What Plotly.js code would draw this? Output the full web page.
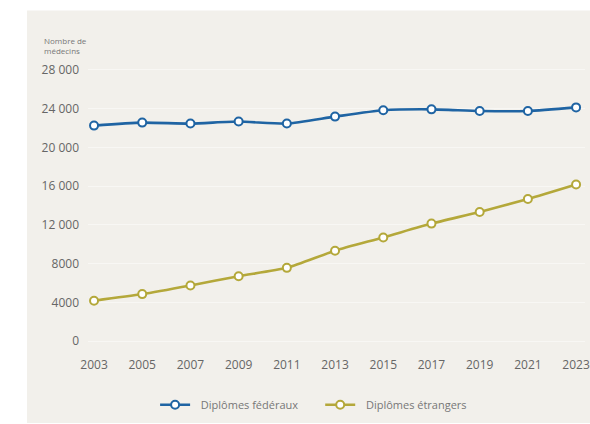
<!DOCTYPE html>
<html><head><meta charset="utf-8">
<script src="https://cdn.plot.ly/plotly-3.0.1.min.js"></script>
<style>html,body{margin:0;padding:0;background:#fff}#c{width:590px;height:424px}</style>
</head><body><div id="c"></div>
<script>
const years = [2003, 2005, 2007, 2009, 2011, 2013, 2015, 2017, 2019, 2021, 2023];
const federal = [22250, 22560, 22460, 22670, 22460, 23180, 23830, 23930, 23760, 23760, 24130];
const foreign = [4170, 4850, 5740, 6700, 7560, 9330, 10700, 12130, 13330, 14670, 16170];
const yTickVals = [0, 4000, 8000, 12000, 16000, 20000, 24000, 28000];
const yTickText = ['0', '4000', '8000', '12 000', '16 000', '20 000', '24 000', '28 000'];
const seriesNames = ['Diplômes fédéraux', 'Diplômes étrangers'];
const yLabel = 'Nombre de<br>médecins';

const blue = '#1f64a3', gold = '#b4a83a';
const nb = '\u00a0';
function tr(y, name, color, trail) {
  return {x: years, y: y, name: nb + nb + name + trail, type: 'scatter', mode: 'lines+markers',
    line: {color: color, width: 2.6, shape: 'spline', smoothing: 0.6},
    marker: {size: 8, color: '#ffffff', line: {color: color, width: 2}}};
}
const layout = {
  width: 590, height: 424,
  margin: {l: 88, r: 5, t: 60, b: 74},
  paper_bgcolor: '#ffffff', plot_bgcolor: 'rgba(0,0,0,0)',
  font: {family: 'Open Sans, Noto Sans, sans-serif', color: '#666', size: 12},
  showlegend: true,
  legend: {orientation: 'h', x: 0.135, xanchor: 'left', y: -0.197, yanchor: 'middle',
    font: {size: 11, color: '#777'}, bgcolor: 'rgba(0,0,0,0)', itemwidth: 30, tracegroupgap: 0},
  xaxis: {range: [2002.75, 2023.37], tickvals: years, ticktext: years.map(String),
    showgrid: false, zeroline: false, showline: false, ticks: '', ticklabelstandoff: 8,
    tickfont: {size: 12, color: '#666'}, fixedrange: true, automargin: false},
  yaxis: {range: [-718, 29026], tickvals: yTickVals, ticktext: yTickText,
    showgrid: true, gridcolor: 'rgba(255,255,255,0.45)', gridwidth: 1, zeroline: false,
    showline: false, ticks: '', ticklabelstandoff: 8, tickfont: {size: 12, color: '#666'}, automargin: false},
  shapes: [{type: 'rect', xref: 'paper', yref: 'paper', x0: -0.1227, x1: 1.02, y0: -0.26, y1: 1.172,
    fillcolor: '#f2f0eb', line: {width: 0}, layer: 'below'}],
  annotations: [{text: yLabel, xref: 'paper', yref: 'paper', x: -0.093, y: 1.052,
    xanchor: 'left', yanchor: 'middle', align: 'left', showarrow: false,
    font: {size: 8, color: '#777'}}]
};
Plotly.newPlot('c', [tr(federal, seriesNames[0], blue, nb.repeat(6)), tr(foreign, seriesNames[1], gold, '')], layout, {staticPlot: true});
</script></body></html>
